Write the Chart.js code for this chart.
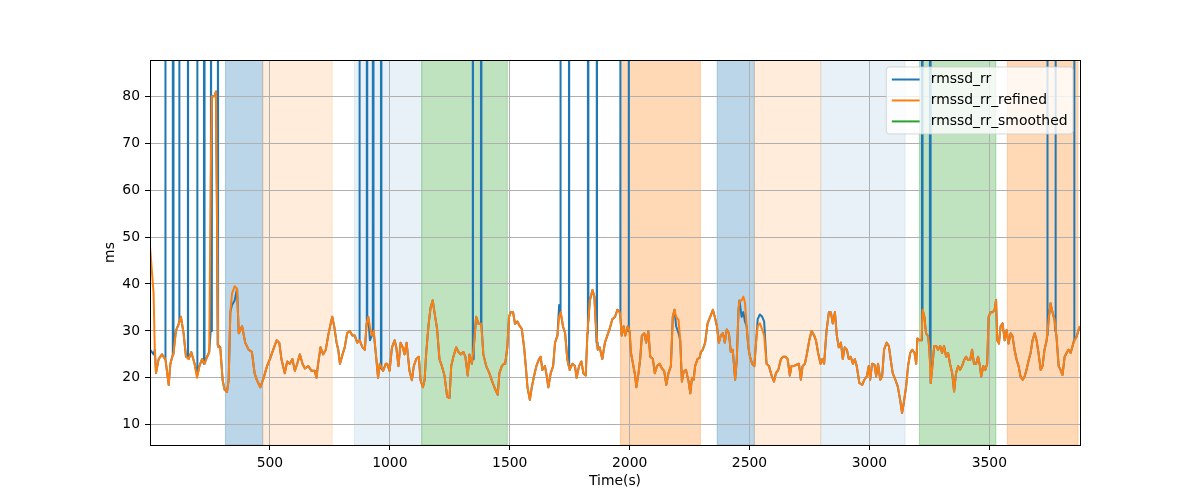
<!DOCTYPE html>
<html>
<head>
<meta charset="utf-8">
<title>rmssd</title>
<script src="https://cdn.jsdelivr.net/npm/chart.js@4.4.1/dist/chart.umd.min.js"></script>
<style>
  html, body { margin: 0; padding: 0; background: #fff; }
  canvas { display: block; }
</style>
</head>
<body>
<canvas id="chart" width="1200" height="500"></canvas>
<script>
(function() {
    'use strict';

    // Time (s) and refined RMSSD (ms)
    const times = [
        0, 15, 20, 25, 36, 50, 64, 78, 85, 99, 108, 120, 129, 140, 150, 161, 172, 186, 196, 206,
        217, 228, 238, 247, 253, 258, 270, 275, 279, 284, 293, 303, 311, 321, 328, 335, 342, 353, 363, 370,
        384, 397, 411, 425, 436, 446, 460, 474, 488,
        500, 514, 528, 539, 548, 562, 572, 583, 594, 604, 614, 625, 636, 646, 660, 673, 687, 694, 701, 711,
        722, 733, 743, 753, 760, 768, 778, 785, 792, 803, 812, 822, 833, 844, 854, 864, 875, 886, 896, 903,
        910, 917, 925, 933, 942, 951, 958, 972, 983,
        989, 999, 1009, 1020, 1027, 1036, 1045, 1054, 1061, 1070, 1075, 1082, 1092, 1100, 1110, 1121, 1128, 1138, 1145, 1152,
        1161, 1170, 1179, 1186, 1197, 1207, 1217, 1228, 1239, 1249, 1256, 1265, 1277, 1286, 1297, 1307, 1315, 1325, 1332, 1342,
        1350, 1360, 1370, 1381, 1390, 1402, 1415, 1425, 1436, 1450, 1457, 1467, 1475,
        1481, 1490, 1497, 1504, 1514, 1522, 1532, 1542, 1550, 1560, 1567, 1574, 1584, 1592, 1602, 1611, 1622, 1629, 1636, 1647,
        1654, 1661, 1671, 1681, 1689, 1699, 1706, 1713, 1722, 1731, 1740, 1750, 1761, 1772, 1779, 1789, 1799, 1807, 1817, 1824,
        1834, 1845, 1853, 1858, 1867, 1875, 1886, 1897, 1907, 1917, 1928, 1939, 1949, 1959, 1967,
        1975, 1982, 1992, 2000, 2005, 2014, 2023, 2028, 2037, 2044, 2051, 2061, 2069, 2078, 2086, 2097, 2105, 2114, 2125, 2135,
        2144, 2153, 2162, 2172, 2180, 2187, 2194, 2204, 2211, 2218, 2225, 2235, 2246, 2253, 2260, 2267, 2273, 2283, 2292, 2297,
        2305, 2315, 2325, 2336, 2347, 2355, 2364, 2372, 2380, 2389, 2397, 2405, 2414, 2422, 2430, 2440, 2447, 2454, 2458,
        2467, 2474, 2481, 2488, 2495, 2502, 2511, 2520, 2527, 2534, 2543, 2553, 2561, 2571, 2581, 2592, 2602, 2610, 2620, 2631,
        2640, 2650, 2659, 2668, 2675, 2685, 2696, 2706, 2714, 2721, 2731, 2740, 2749, 2759, 2768, 2777, 2786, 2796, 2804, 2811,
        2821, 2831, 2839, 2847, 2856, 2864, 2872, 2881, 2889, 2897, 2906, 2914, 2922, 2931, 2939, 2947,
        2958, 2970, 2979, 2989, 2997, 3003, 3011, 3021, 3028, 3036, 3045, 3053, 3061, 3072, 3081, 3089, 3097, 3108, 3118, 3128,
        3136, 3143, 3153, 3161, 3170, 3178, 3188, 3195, 3200, 3208, 3217, 3222, 3229, 3236, 3245, 3250, 3256, 3261, 3270, 3278,
        3286, 3295, 3303, 3311, 3320, 3328, 3336, 3345, 3353, 3361, 3370, 3378, 3386, 3395, 3403, 3411, 3420, 3428, 3436, 3445,
        3453, 3461, 3466, 3475, 3483, 3491, 3497, 3505, 3514, 3522, 3528, 3533, 3540, 3547, 3555, 3564, 3572, 3580, 3589, 3597,
        3605, 3614, 3622, 3630, 3639, 3647, 3655, 3664, 3672, 3680, 3689, 3697, 3705, 3714, 3722, 3730, 3739, 3747, 3755, 3764,
        3772, 3780, 3789, 3797, 3805, 3814, 3822, 3830, 3839, 3847, 3855, 3864, 3872, 3878
    ];
    const refined = [
        48, 38, 26, 21, 24, 25, 24, 18.5, 23, 25.5, 30, 31.5, 33, 29.5, 24.5, 24, 25.5, 23, 20, 22.5,
        24, 23, 24.5, 25.5, 62, 80, 80, 81, 57, 26.5, 26.5, 19.5, 17.5, 17, 19.5, 34, 38, 39.5, 39, 29.5,
        31, 27.5, 26, 25.5, 21, 19.5, 18, 20, 22.5,
        24, 26, 28, 27.5, 24, 21, 23.5, 23, 24, 21.5, 23, 25, 23, 22, 22.5, 21.5, 21.5, 20, 23, 26.5,
        25, 26, 29, 31.5, 33, 31, 27.5, 26, 23, 25, 26.5, 29.5, 30, 29, 29, 27.5, 28, 26.5, 26, 31.5,
        33, 31, 29, 30, 25, 20, 23, 21.5, 23,
        23, 21.5, 26.5, 28, 26.5, 22.5, 27.5, 26.5, 25, 27.5, 25, 21.5, 19.5, 22.5, 24, 24.5, 19.5, 18, 19.5, 25.5,
        31, 35, 36.5, 34, 30.5, 24, 22.5, 20.5, 16, 15.7, 22.5, 24.5, 26.5, 25.5, 25, 25.5, 24.5, 20.5, 25, 23,
        26.5, 33, 31.5, 31.5, 25, 22.5, 21, 19.5, 18, 16.4, 21, 22.5, 23,
        23, 26.5, 33, 34, 34, 31.5, 32, 31, 30.5, 26.5, 22.5, 18, 15.3, 18, 20.5, 22.5, 24, 24.5, 21.7, 22.5,
        20.5, 18, 21, 22.5, 27.5, 29, 33, 34, 31, 29.5, 24, 21.7, 23, 22.5, 20, 22.5, 23.5, 21, 20.5, 29.5,
        36.5, 38.7, 37.3, 32.3, 26, 26.5, 24, 27.5, 29, 30.5, 32.5, 33, 34.5, 34, 29,
        31, 29, 31, 30, 25.5, 23, 20.5, 18, 21, 24, 29, 29.5, 27.5, 30, 24.5, 24, 21, 22.5, 23, 22,
        21.5, 18.5, 21, 22.5, 33, 34.5, 33, 32.3, 28, 19.2, 21.3, 21.7, 19.2, 16.7, 20, 19.6, 22.5, 24, 24.3, 25.5,
        26, 27.5, 31.6, 33, 34.5, 33, 31, 27.5, 29, 29.5, 27.5, 30.3, 29.5, 25.5, 26, 19.6, 24, 34.5, 36.5,
        36.5, 37.3, 36, 31, 26.5, 24.5, 23, 22.5, 27.5, 31, 31.6, 30.3, 29, 23, 22.5, 20.5, 19.2, 21, 21.7, 24,
        24.5, 24.5, 24, 20.5, 22.5, 22.5, 22.8, 23, 19.6, 22.5, 23, 25.3, 28, 30, 29.2, 28, 25.3, 23, 24, 23,
        30, 34, 34, 31.6, 34, 29, 26.5, 27.5, 24, 26.5, 26, 24, 24.5, 23, 24, 22.5,
        18.9, 18.5, 19.6, 20.3, 22.5, 19.6, 23, 22.8, 20.3, 23, 19.6, 20.3, 26, 27.5, 26.8, 23.8, 21, 19.6, 18.2, 15.3,
        12.5, 14.6, 18.2, 22.5, 25.3, 26, 25.3, 23, 28.4, 28, 28, 34.5, 33, 29.5, 28.8, 26, 18.9, 21.7, 26.8, 26.8,
        26, 26.8, 25.3, 26.8, 24.5, 25.3, 23, 21, 17.1, 21, 22.5, 21.7, 22.5, 23.8, 24.5, 23.8, 23.8, 26, 23, 23,
        24.5, 22.5, 20.3, 22.5, 21.7, 23, 33, 34, 34, 34.5, 36.6, 28, 27.3, 31, 31.6, 28, 30.2, 27.3, 29.5, 28.8,
        26, 23.8, 22.5, 20.3, 19.6, 20.3, 21.7, 23.8, 25.3, 28, 29.5, 28, 25.3, 21.7, 22.5, 26, 28, 32.3, 35.9, 33.8,
        32.3, 28.8, 22.5, 21.7, 20.6, 24.5, 25.3, 26, 25.3, 26.8, 28, 28.8, 30.2, 31
    ];

    // rmssd_rr matches the refined trace except for these outliers
    const rawSpikeTimes = [64, 96, 122, 158, 197, 226, 254, 283, 873, 905, 930, 964, 1346, 1381,
                           1711, 1747, 1827, 1863, 1961, 1996, 3220, 3253, 3742, 3776, 3854];
    // value the raw trace sits at where each spike leaves it
    const rawSpikeBase = [24, 25, 32, 24.5, 20.5, 23, 30, 27, 28, 32, 29.5, 22, 24, 31.5,
                          34, 22.5, 32, 27.5, 33, 30, 33, 24, 29, 30, 28];
    const rawSpikeValue = 1000;
    const rawDiffTimes  = [0, 8, 15, 342, 353, 917, 1706, 2194, 2204, 2467, 2474, 2481, 2534, 2543, 2553, 2561];
    const rawDiffValues = [26, 25.5, 25, 35.5, 36.5, 28, 35.5, 31, 29.5, 33, 34, 32, 32.5, 33.5, 33, 32];

    // rmssd_rr_smoothed has nothing drawn
    const smoothed = [];

    // shaded stages (s)
    const stageStart = [315, 470, 852, 1133, 1962, 2365, 2520, 2797, 3208, 3575];
    const stageEnd   = [470, 760, 1133, 1490, 2295, 2520, 2797, 3149, 3527, 3870];
    const stageKind  = [0, 1, 2, 3, 4, 0, 1, 2, 3, 4];

    const xTicks = [500, 1000, 1500, 2000, 2500, 3000, 3500];
    const yTicks = [10, 20, 30, 40, 50, 60, 70, 80];

    const STAGE_FILL = [
        'rgba(31, 119, 180, 0.3)',
        'rgba(255, 127, 14, 0.15)',
        'rgba(31, 119, 180, 0.1)',
        'rgba(44, 160, 44, 0.3)',
        'rgba(255, 127, 14, 0.3)'
    ];
    const FONT = "'DejaVu Sans', sans-serif";
    const FS = 13.9;

    const refinedPts = times.map((t, i) => ({ x: t, y: refined[i] }));

    // raw series: refined values, overridden where the raw trace differs
    const rawMap = new Map(times.map((t, i) => [t, refined[i]]));
    rawDiffTimes.forEach((t, i) => rawMap.set(t, rawDiffValues[i]));
    rawSpikeTimes.forEach((t, i) => {
        rawMap.set(t - 1, rawSpikeBase[i]);
        rawMap.set(t, rawSpikeValue);
        rawMap.set(t + 1, rawSpikeBase[i]);
    });
    const rawPts = Array.from(rawMap.keys()).sort((a, b) => a - b).map(t => ({ x: t, y: rawMap.get(t) }));

    const stagePlugin = {
        id: 'stages',
        beforeDraw(chart) {
            const { ctx, chartArea: a, scales: { x } } = chart;
            ctx.save();
            ctx.beginPath();
            ctx.rect(a.left, a.top, a.right - a.left, a.bottom - a.top);
            ctx.clip();
            stageStart.forEach((s, i) => {
                const x0 = x.getPixelForValue(s);
                const x1 = x.getPixelForValue(stageEnd[i]);
                ctx.fillStyle = STAGE_FILL[stageKind[i]];
                ctx.strokeStyle = STAGE_FILL[stageKind[i]];
                ctx.lineWidth = 1;
                ctx.fillRect(x0, a.top, x1 - x0, a.bottom - a.top);
                ctx.strokeRect(x0, a.top, x1 - x0, a.bottom - a.top);
            });
            ctx.restore();
        },
        afterDatasetsDraw(chart) {
            // four spines on top of the lines
            const { ctx, chartArea: a } = chart;
            ctx.save();
            ctx.strokeStyle = '#000';
            ctx.lineWidth = 1;
            ctx.strokeRect(a.left + 0.5, a.top + 0.5, a.right - a.left, a.bottom - a.top);
            ctx.restore();
        }
    };

    // matplotlib-like legend in the upper right of the axes
    const legendPlugin = {
        id: 'boxLegend',
        afterDraw(chart) {
            const { ctx, chartArea: a } = chart;
            const sets = chart.data.datasets;
            const pad = 0.4 * FS, handleLen = 2 * FS, handlePad = 0.8 * FS, gap = 0.5 * FS, axPad = 0.5 * FS;
            const rowH = 14;
            ctx.save();
            ctx.font = FS + 'px ' + FONT;
            const textW = Math.max(...sets.map(d => ctx.measureText(d.label).width));
            const w = 2 * pad + handleLen + handlePad + textW;
            const h = 2 * pad + sets.length * rowH + (sets.length - 1) * gap;
            const x = a.right - axPad - w;
            const y = a.top + axPad;
            ctx.beginPath();
            ctx.roundRect(x, y, w, h, 3);
            ctx.fillStyle = 'rgba(255, 255, 255, 0.8)';
            ctx.fill();
            ctx.strokeStyle = 'rgba(204, 204, 204, 0.8)';
            ctx.lineWidth = 1;
            ctx.stroke();
            sets.forEach((d, i) => {
                const cy = y + pad + rowH / 2 + i * (rowH + gap);
                ctx.beginPath();
                ctx.moveTo(x + pad, cy);
                ctx.lineTo(x + pad + handleLen, cy);
                ctx.strokeStyle = d.borderColor;
                ctx.lineWidth = 2;
                ctx.stroke();
                ctx.fillStyle = '#000';
                ctx.textBaseline = 'middle';
                ctx.textAlign = 'left';
                ctx.fillText(d.label, x + pad + handleLen + handlePad, cy);
            });
            ctx.restore();
        }
    };

    const lineStyle = { borderWidth: 2, pointRadius: 0, borderJoinStyle: 'round', clip: 0, tension: 0 };

    new Chart(document.getElementById('chart'), {
        type: 'line',
        data: {
            datasets: [
                Object.assign({ label: 'rmssd_rr', data: rawPts, borderColor: '#1f77b4', order: 3 }, lineStyle),
                Object.assign({ label: 'rmssd_rr_refined', data: refinedPts, borderColor: '#ff7f0e', order: 2 }, lineStyle),
                Object.assign({ label: 'rmssd_rr_smoothed', data: smoothed, borderColor: '#2ca02c', order: 1 }, lineStyle)
            ]
        },
        options: {
            responsive: false,
            devicePixelRatio: 1,
            animation: false,
            events: [],
            layout: { padding: { left: 0, right: 120, top: 60, bottom: 0 } },
            plugins: { legend: { display: false }, tooltip: { enabled: false } },
            scales: {
                x: {
                    type: 'linear',
                    min: 0,
                    max: 3878,
                    afterBuildTicks: s => { s.ticks = xTicks.map(v => ({ value: v })); },
                    afterFit: s => { s.height = 55; },
                    ticks: { color: '#000', font: { family: FONT, size: FS }, padding: 5, maxRotation: 0, autoSkip: false, callback: v => String(v) },
                    grid: { color: '#b0b0b0', lineWidth: 1, tickColor: '#000', tickLength: 5, tickWidth: 1 },
                    border: { display: false },
                    title: { display: true, text: 'Time(s)', color: '#000', font: { family: FONT, size: FS }, padding: { top: 0, bottom: 10.7 } }
                },
                y: {
                    type: 'linear',
                    min: 5.7,
                    max: 87.7,
                    afterBuildTicks: s => { s.ticks = yTicks.map(v => ({ value: v })); },
                    afterFit: s => { s.width = 150; },
                    ticks: { color: '#000', font: { family: FONT, size: FS }, padding: 5, autoSkip: false, callback: v => String(v) },
                    grid: { color: '#b0b0b0', lineWidth: 1, tickColor: '#000', tickLength: 5, tickWidth: 1 },
                    border: { display: false },
                    title: { display: true, text: 'ms', color: '#000', font: { family: FONT, size: FS }, padding: { top: 101.7, bottom: 0 } }
                }
            }
        },
        plugins: [stagePlugin, legendPlugin]
    });
})();
</script>
</body>
</html>
